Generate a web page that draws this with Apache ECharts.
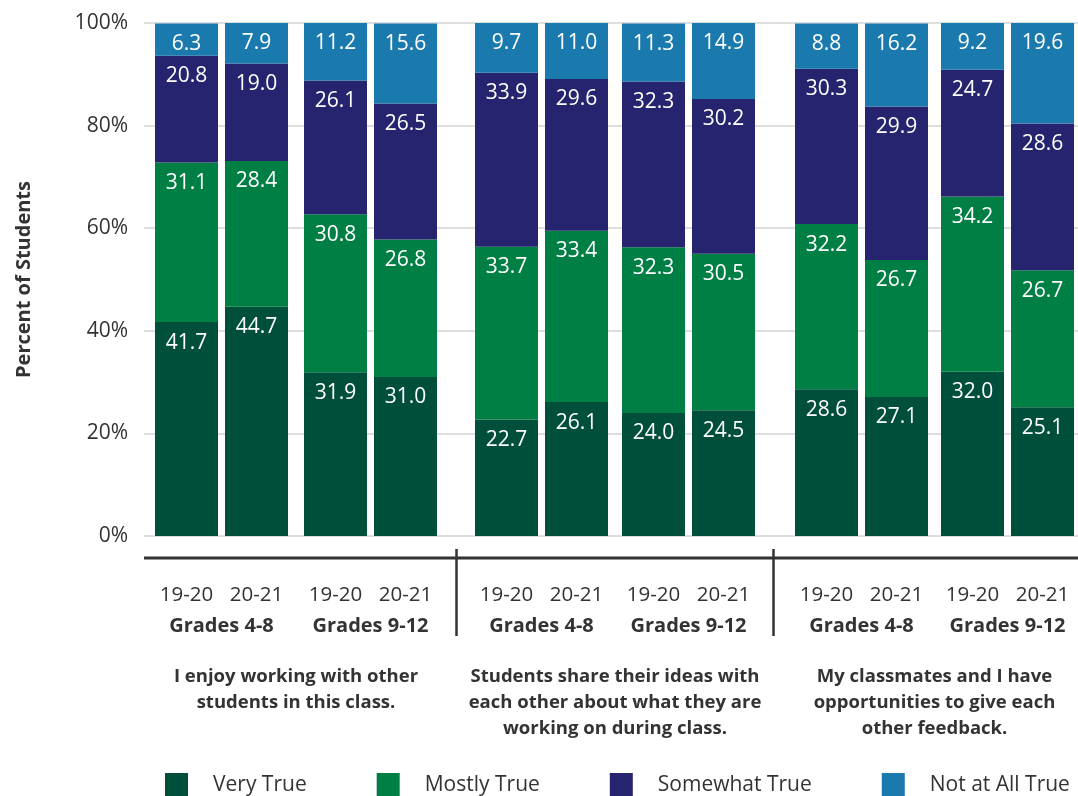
<!DOCTYPE html>
<html>
<head>
<meta charset="utf-8">
<script src="https://cdn.jsdelivr.net/npm/echarts@6/dist/echarts.min.js"></script>
<style>
html,body{margin:0;padding:0;background:#fff;}
#chart{width:1078px;height:796px;}
</style>
</head>
<body>
<div id="chart"></div>
<script>
// ---- data ----
const years = ['19-20', '20-21'];
const gradeBands = ['Grades 4-8', 'Grades 9-12'];
const questions = [
  'I enjoy working with other\nstudents in this class.',
  'Students share their ideas with\neach other about what they are\nworking on during class.',
  'My classmates and I have\nopportunities to give each\nother feedback.'
];
const seriesNames = ['Very True', 'Mostly True', 'Somewhat True', 'Not at All True'];
const veryTrue     = [41.7, 44.7, 31.9, 31.0, 22.7, 26.1, 24.0, 24.5, 28.6, 27.1, 32.0, 25.1];
const mostlyTrue   = [31.1, 28.4, 30.8, 26.8, 33.7, 33.4, 32.3, 30.5, 32.2, 26.7, 34.2, 26.7];
const somewhatTrue = [20.8, 19.0, 26.1, 26.5, 33.9, 29.6, 32.3, 30.2, 30.3, 29.9, 24.7, 28.6];
const notAtAllTrue = [6.3, 7.9, 11.2, 15.6, 9.7, 11.0, 11.3, 14.9, 8.8, 16.2, 9.2, 19.6];
const yTicks = [0, 20, 40, 60, 80, 100];

// ---- style / layout ----
const seriesValues = [veryTrue, mostlyTrue, somewhatTrue, notAtAllTrue];
const colors = ['#004f3b', '#007f45', '#26246e', '#1b7aad'];
const FONT = 'Open Sans';
const TXT = '#333333';
const gridTop = 23, gridBottom = 260;
const subLefts = [151.5, 300.5, 471.5, 618.5, 791.5, 937.5];
const subWidth = 140;

const grids = [{left: 144, right: 0, top: gridTop, bottom: gridBottom}];
const xAxes = [{type: 'value', gridIndex: 0, show: false, min: 0, max: 1}];
const yAxes = [{
  type: 'value', gridIndex: 0, min: yTicks[0], max: yTicks[yTicks.length - 1], interval: 20,
  axisLine: {show: false}, axisTick: {show: false},
  axisLabel: {formatter: '{value}%', fontFamily: FONT, fontSize: 21, color: TXT, margin: 16},
  splitLine: {lineStyle: {color: '#dedede', width: 2}},
  name: 'Percent of Students', nameLocation: 'middle', nameGap: 110,
  nameTextStyle: {fontFamily: FONT, fontWeight: 'bold', fontSize: 20, color: TXT}
}];
const series = [];

subLefts.forEach((left, k) => {
  const gi = k + 1;
  grids.push({left: left, width: subWidth, top: gridTop, bottom: gridBottom});
  xAxes.push({
    type: 'category', gridIndex: gi, data: years,
    axisLine: {show: false}, axisTick: {show: false},
    axisLabel: {interval: 0, hideOverlap: false, fontFamily: FONT, fontSize: 20.5, color: TXT, margin: 49},
    name: gradeBands[k % 2], nameLocation: 'middle', nameGap: 80,
    nameTextStyle: {fontFamily: FONT, fontWeight: 'bold', fontSize: 20, color: TXT}
  });
  yAxes.push({type: 'value', gridIndex: gi, min: 0, max: 100, show: false});
  seriesNames.forEach((name, s) => {
    series.push({
      name: name, type: 'bar', stack: 'g' + gi, xAxisIndex: gi, yAxisIndex: gi,
      barWidth: 63,
      data: seriesValues[s].slice(k * 2, k * 2 + 2),
      itemStyle: {color: colors[s]},
      label: {
        show: true, position: 'insideTop', distance: 10,
        formatter: p => p.value.toFixed(1),
        color: '#ffffff', fontFamily: FONT, fontSize: 21
      }
    });
  });
});

// decorations
const graphic = [];
graphic.push({type: 'line', shape: {x1: 144, y1: 558, x2: 1078, y2: 558}, style: {stroke: '#333', lineWidth: 3}});
[456.5, 773.5].forEach(x => {
  graphic.push({type: 'line', shape: {x1: x, y1: 549, x2: x, y2: 636}, style: {stroke: '#333', lineWidth: 2.5}});
});
questions.forEach((q, i) => {
  const cx = (subLefts[i * 2] + subLefts[i * 2 + 1] + subWidth) / 2;
  graphic.push({
    type: 'text', x: cx, y: 664,
    style: {text: q, x: 0, y: 0, textAlign: 'center', font: 'bold 18.5px "' + FONT + '"', fill: TXT, lineHeight: 26}
  });
});

const chart = echarts.init(document.getElementById('chart'), null, {renderer: 'canvas'});
chart.setOption({
  animation: false,
  backgroundColor: '#ffffff',
  textStyle: {fontFamily: FONT},
  grid: grids, xAxis: xAxes, yAxis: yAxes, series: series,
  legend: {
    data: seriesNames, left: 160, top: 768, itemWidth: 23, itemHeight: 24, itemGap: 70,
    icon: 'rect',
    textStyle: {fontFamily: FONT, fontSize: 21, color: TXT, padding: [0, 0, 0, 20]}
  },
  graphic: graphic
});
</script>
</body>
</html>
